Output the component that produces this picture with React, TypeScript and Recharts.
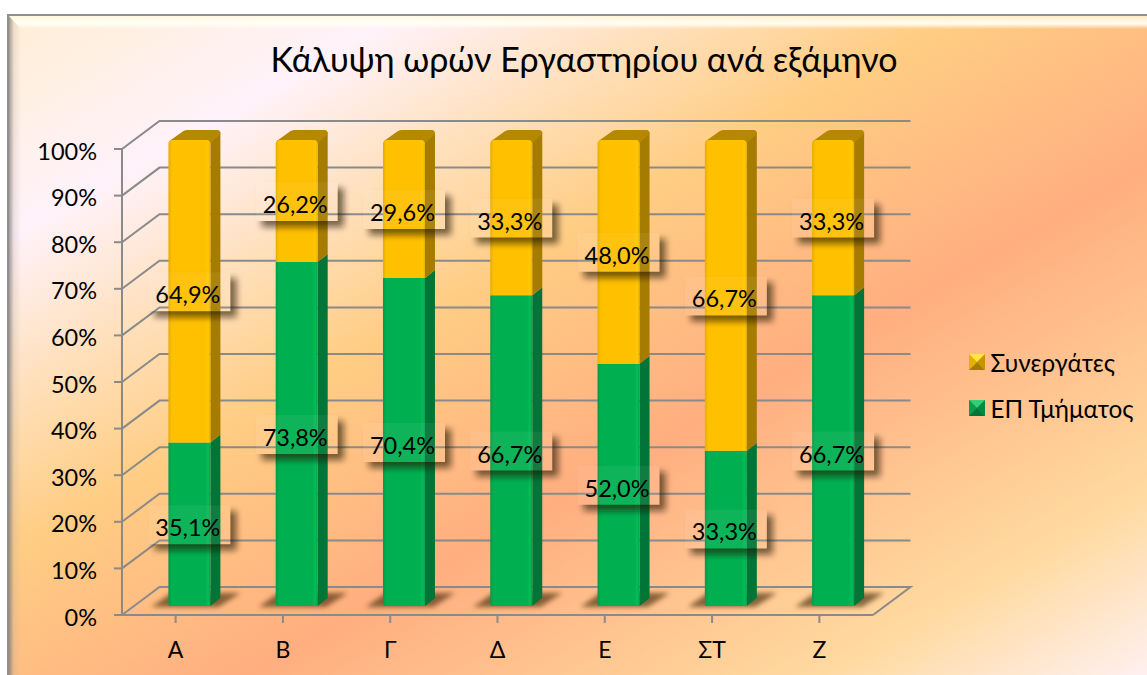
import React from 'react';
import { ComposedChart, Bar, XAxis, YAxis, CartesianGrid, Legend, LabelList } from 'recharts';

const categories = ['Α', 'Β', 'Γ', 'Δ', 'Ε', 'ΣΤ', 'Ζ'];
const epValues = [35.1, 73.8, 70.4, 66.7, 52.0, 33.3, 66.7];
const synValues = [64.9, 26.2, 29.6, 33.3, 48.0, 66.7, 33.3];
const yTicks = [0, 10, 20, 30, 40, 50, 60, 70, 80, 90, 100];
const titleText = 'Κάλυψη ωρών Εργαστηρίου ανά εξάμηνο';
const epName = 'ΕΠ Τμήματος';
const synName = 'Συνεργάτες';

const rows = categories.map((c, i) => ({ name: c, ep: epValues[i], syn: synValues[i] }));

const FONT = '"Lato", "Noto Sans", sans-serif';
const GRID = '#8a8a8a';
const DX = 37.5, DY = -28;
const BAR_DX = 13.4, BAR_DY = -9;
const SIDE_X = 10, SIDE_Y = -8;

const gridLine = (p: any) => {
  const { x1, x2, y1 } = p;
  const isFloor = Math.abs(y1 - 615) < 1;
  const d = `M${x1} ${y1}L${x1 + DX} ${y1 + DY}L${x2 + DX} ${y1 + DY}` + (isFloor ? `L${x2} ${y1}` : '');
  return <path key={p.key ?? y1} d={d} fill="none" stroke={GRID} strokeWidth={2} />;
};

function bar3d(kind: 'ep' | 'syn') {
  return (p: any) => {
    const x = p.x + BAR_DX, y = p.y + BAR_DY, w = p.width, h = p.height;
    const front = kind === 'ep' ? 'url(#frontGreen)' : 'url(#frontYellow)';
    const side = kind === 'ep' ? '#007537' : '#a67c00';
    const top = '#b58800';
    const b = y + h;
    return (
      <g>
        {kind === 'ep' && (
          <path
            d={`M${x - 17} ${b + 1}L${x + 3} ${b - 13}L${x + w + 30} ${b - 13}L${x + w + 8} ${b + 1}Z`}
            fill="#5a3a18" opacity={0.72} filter="url(#blur3)"
          />
        )}
        <path d={`M${x + w} ${y}L${x + w + SIDE_X} ${y + SIDE_Y}L${x + w + SIDE_X} ${b + SIDE_Y}L${x + w} ${b}Z`} fill={side} />
        {kind === 'syn' && (
          <path
            d={`M${x + 1} ${y + 1}L${x + SIDE_X + 5} ${y + SIDE_Y - 1}Q${x + SIDE_X + 7} ${y + SIDE_Y - 2} ${x + SIDE_X + 9} ${y + SIDE_Y - 2}L${x + w + SIDE_X - 3} ${y + SIDE_Y - 2}Q${x + w + SIDE_X} ${y + SIDE_Y - 2} ${x + w + SIDE_X} ${y + SIDE_Y + 2}L${x + w} ${y + 3}L${x + w - 4} ${y + 1}Z`}
            fill={top}
          />
        )}
        {kind === 'syn' ? (
          <path d={`M${x} ${b}L${x} ${y + 4}Q${x} ${y} ${x + 4} ${y}L${x + w - 4} ${y}Q${x + w} ${y} ${x + w} ${y + 4}L${x + w} ${b}Z`} fill={front} />
        ) : (
          <path d={`M${x} ${y}L${x + w} ${y}L${x + w} ${b - 2}Q${x + w} ${b} ${x + w - 2} ${b}L${x + 2} ${b}Q${x} ${b} ${x} ${b - 2}Z`} fill={front} />
        )}
      </g>
    );
  };
}

const dataLabel = (p: any) => {
  const cx = p.x + p.width / 2 + BAR_DX;
  const cy = p.y + p.height / 2 + BAR_DY + 1;
  const t = Number(p.value).toFixed(1).replace('.', ',') + '%';
  const l = cx - 41, r = cx + 41, tp = cy - 20, bt = cy + 19;
  const id = `lbl-${Math.round(cx)}-${Math.round(cy)}`;
  return (
    <g>
      <clipPath id={id}>
        <path
          clipRule="evenodd"
          d={`M${l - 30} ${tp - 30}H${r + 30}V${bt + 30}H${l - 30}ZM${l} ${tp}V${bt}H${r}V${tp}Z`}
        />
      </clipPath>
      <rect x={l} y={tp} width={r - l} height={bt - tp} fill="#ffffff" fillOpacity={0.06} />
      <g clipPath={`url(#${id})`}>
        <rect x={l + 6} y={tp + 6} width={r - l} height={bt - tp} fill="#1e1208" fillOpacity={0.6} filter="url(#blur2)" />
      </g>
      <text x={cx - 1.5} y={cy + 2} textAnchor="middle" dominantBaseline="central" fontFamily={FONT} fontSize={23.5} fill="#000">
        {t}
      </text>
    </g>
  );
};

const yTick = (p: any) => (
  <text x={97} y={p.y + 1.5} textAnchor="end" dominantBaseline="central" fontFamily={FONT} fontSize={23.5} fill="#000">
    {`${p.payload.value}%`}
  </text>
);

const xTick = (p: any) => (
  <text x={p.x} y={649} textAnchor="middle" dominantBaseline="central" fontFamily={FONT} fontSize={23} fill="#000">
    {p.payload.value}
  </text>
);

function LegendIcon({ kind }: { kind: 'ep' | 'syn' }) {
  const c = kind === 'ep'
    ? { t: '#33cc77', l: '#00a04a', r: '#008a42', b: '#00753a', m: '#14b45c' }
    : { t: '#ffe24d', l: '#e8ae00', r: '#c89400', b: '#a67c00', m: '#ffd21a' };
  return (
    <svg width={16} height={16} style={{ display: 'block' }}>
      <rect width={16} height={16} fill={c.m} />
      <path d="M0 0L16 0L8 8Z" fill={c.t} />
      <path d="M0 0L8 8L0 16Z" fill={c.l} />
      <path d="M16 0L16 16L8 8Z" fill={c.r} />
      <path d="M0 16L16 16L8 8Z" fill={c.b} />
    </svg>
  );
}

const legendContent = () => (
  <div style={{ fontFamily: FONT, fontSize: 24.3, color: '#000' }}>
    {[['syn', synName], ['ep', epName]].map(([k, n]) => (
      <div key={k} style={{ display: 'flex', alignItems: 'center', height: 46, whiteSpace: 'nowrap' }}>
        <LegendIcon kind={k as any} />
        <span style={{ marginLeft: 5.5 }}>{n}</span>
      </div>
    ))}
  </div>
);

const bg = 'linear-gradient(150.5deg, #ffeed4 0%, #fff2fa 17%, #ffe0bc 29%, #ffcd84 41%, #ffae80 61%, #ffdaa0 86%, #fff0f0 100%)';

export default function App() {
  return (
    <div style={{ position: 'absolute', left: 0, top: 0, width: 1147, height: 675, background: '#fff', overflow: 'hidden' }}>
      <svg width={0} height={0} style={{ position: 'absolute' }}>
        <defs>
          <linearGradient id="frontGreen" x1="0" x2="1" y1="0" y2="0">
            <stop offset="0" stopColor="#009a47" />
            <stop offset="0.08" stopColor="#00b050" />
            <stop offset="0.88" stopColor="#00b050" />
            <stop offset="0.95" stopColor="#00bd56" />
            <stop offset="1" stopColor="#00a049" />
          </linearGradient>
          <linearGradient id="frontYellow" x1="0" x2="1" y1="0" y2="0">
            <stop offset="0" stopColor="#e6ad00" />
            <stop offset="0.08" stopColor="#ffc000" />
            <stop offset="0.88" stopColor="#ffc000" />
            <stop offset="0.95" stopColor="#ffc800" />
            <stop offset="1" stopColor="#e6ad00" />
          </linearGradient>
          <filter id="blur2" x="-20%" y="-30%" width="140%" height="160%"><feGaussianBlur stdDeviation="3" /></filter>
          <filter id="blur3" x="-20%" y="-40%" width="140%" height="180%"><feGaussianBlur stdDeviation="2.5" /></filter>
        </defs>
      </svg>
      <div
        style={{
          position: 'absolute', left: 7, top: 14, width: 1140, height: 661, boxSizing: 'border-box',
          borderTop: '2px solid #8f8f8f', borderLeft: '2px solid #8f8f8f', background: bg,
        }}
      />
      <div
        style={{
          position: 'absolute', left: 9, top: 16, width: 1138, height: 13,
          background: 'linear-gradient(180deg, rgba(255,250,225,.75) 0%, rgba(255,255,245,.95) 60%, rgba(255,250,230,0) 100%)',
          clipPath: 'polygon(0 0, 100% 0, 100% 100%, 12px 100%)',
        }}
      />
      <div
        style={{
          position: 'absolute', left: 9, top: 16, width: 12, height: 659,
          background: 'linear-gradient(90deg, rgba(120,115,115,.7) 0%, rgba(180,170,160,.25) 40%, rgba(255,255,255,0) 100%)',
          clipPath: 'polygon(0 0, 100% 13px, 100% 100%, 0 100%)',
        }}
      />
      <div
        style={{
          position: 'absolute', left: 7, top: 38, textAlign: 'center',
          fontFamily: FONT, fontSize: 34, lineHeight: '42px', color: '#000', width: 1154, whiteSpace: 'nowrap',
        }}
      >
        {titleText}
      </div>
      <div style={{ position: 'absolute', left: 0, top: 0 }}>
        <ComposedChart
          width={1147}
          height={675}
          data={rows}
          barCategoryGap={0}
          margin={{ left: 62, top: 149, right: 102, bottom: 30 }}
        >
          <CartesianGrid vertical={false} horizontal={gridLine as any} />
          <XAxis
            dataKey="name" height={30} interval={0}
            tickLine={{ stroke: GRID, strokeWidth: 2 }} tickSize={8}
            axisLine={{ stroke: GRID, strokeWidth: 2 }}
            tick={xTick as any}
          />
          <YAxis
            width={60} type="number" domain={[0, 100]} ticks={yTicks} interval={0}
            tickLine={{ stroke: GRID, strokeWidth: 2 }} tickSize={8}
            axisLine={{ stroke: GRID, strokeWidth: 2 }}
            tick={yTick as any}
          />
          <Legend
            layout="vertical" align="right" verticalAlign="middle" width={172}
            content={legendContent as any}
            wrapperStyle={{ left: 969, right: 'auto', top: 339, width: 172 }}
          />
          <Bar dataKey="ep" name={epName} stackId="a" barSize={42} isAnimationActive={false} shape={bar3d('ep') as any}>
            <LabelList dataKey="ep" content={dataLabel as any} />
          </Bar>
          <Bar dataKey="syn" name={synName} stackId="a" barSize={42} isAnimationActive={false} shape={bar3d('syn') as any}>
            <LabelList dataKey="syn" content={dataLabel as any} />
          </Bar>
        </ComposedChart>
      </div>
    </div>
  );
}
